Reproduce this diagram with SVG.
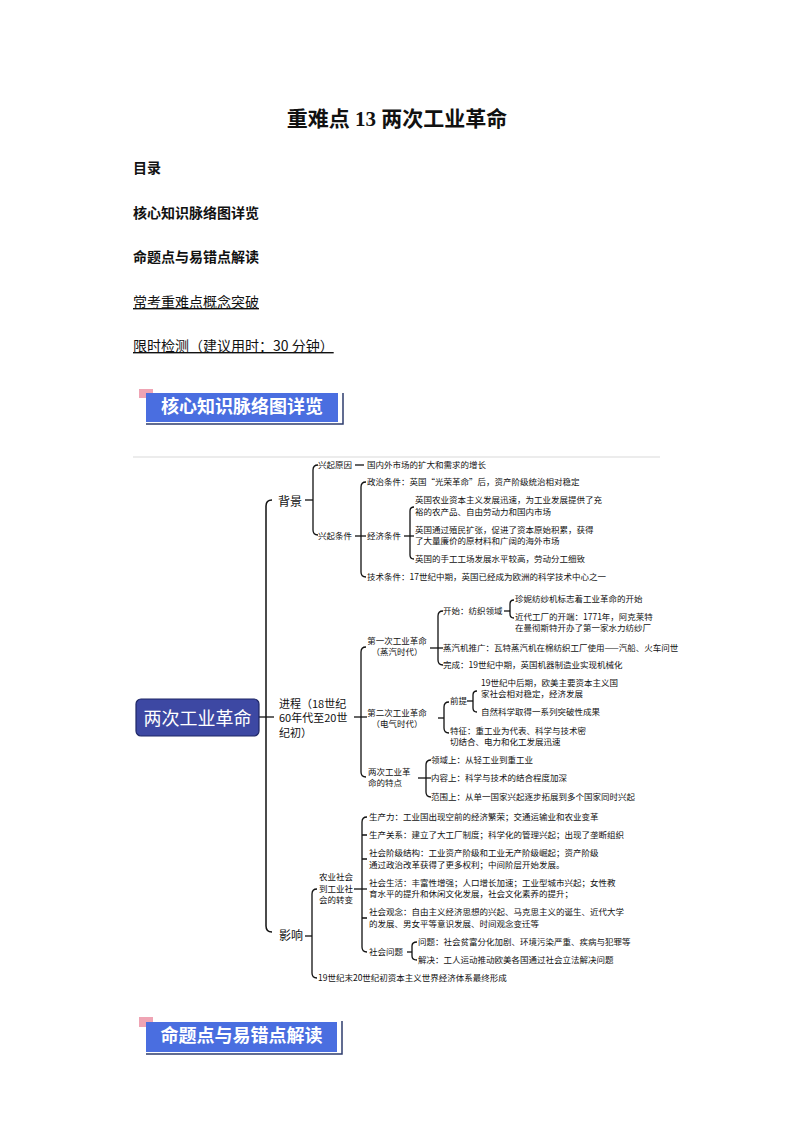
<svg xmlns="http://www.w3.org/2000/svg" width="794" height="1123" viewBox="0 0 794 1123">
<style>
text{font-family:"Noto Sans CJK SC","Noto Sans",sans-serif;fill:#111}
.title{font-family:"Liberation Serif","Noto Sans CJK SC",serif;font-size:21px;font-weight:bold;text-anchor:middle}
.toc{font-size:14px}
.b{font-weight:bold}
.u{text-decoration:underline}
.ban{font-size:18px;font-weight:bold;fill:#fff;text-anchor:middle}
.s{font-size:8.5px}
.m{font-size:12px}
.p{font-size:11px}
.c{text-anchor:middle}
.root{font-size:18px;fill:#fff;text-anchor:middle}
.ln{fill:none;stroke:#111;stroke-width:1.3}
.main{fill:none;stroke:#111;stroke-width:1.5}
.pink{fill:#efa4b4}
.blue{fill:#4a6ee0}
.shadow{fill:none;stroke:#2e3d6e;stroke-width:1.5}
</style>

<g id="header">
<text class="title" x="397" y="126">重难点 13 两次工业革命</text>
<text class="toc b" x="133" y="173">目录</text>
<text class="toc b" x="133" y="218">核心知识脉络图详览</text>
<text class="toc b" x="133" y="262">命题点与易错点解读</text>
<text class="toc u" x="133" y="307">常考重难点概念突破</text>
<text class="toc u" x="133" y="351">限时检测（建议用时：30 分钟）</text>
</g>

<g id="banner1">
<rect class="pink" x="139" y="389" width="14" height="9"/>
<rect class="blue" x="146" y="393" width="192" height="29"/>
<path class="shadow" d="M146,424 H343 V393"/>
<text class="ban" x="242" y="413">核心知识脉络图详览</text>
</g>

<line x1="133" y1="457" x2="660" y2="457" stroke="#ececec" stroke-width="2"/>

<g id="connectors">
<path class="main" d="M272,500 Q266,500 266,506 V926 Q266,932 272,932"/>
<path class="ln" d="M259,717 H274"/>
<path class="ln" d="M305,500 H313"/>
<path class="ln" d="M318,465 Q313,465 313,470 V530 Q313,535 318,535"/>
<path class="ln" d="M355,465 H364"/>
<path class="ln" d="M355,536 H366"/>
<path class="ln" d="M366,482 Q361,482 361,487 V572 Q361,577 366,577"/>
<path class="ln" d="M404,536 H414"/>
<path class="ln" d="M414,507 Q410,507 410,511 V555 Q410,559 414,559"/>
<path class="ln" d="M354,717 H367"/>
<path class="ln" d="M366,647 Q361,647 361,652 V772 Q361,777 366,777"/>
<path class="ln" d="M430,648 H443"/>
<path class="ln" d="M443,611 Q438,611 438,616 V660 Q438,665 443,665"/>
<path class="ln" d="M504,611 H510"/>
<path class="ln" d="M514,600 Q510,600 510,604 V614 Q510,618 514,618"/>
<path class="ln" d="M438,718 H444"/>
<path class="ln" d="M449,702 Q444,702 444,707 V728 Q444,733 449,733"/>
<path class="ln" d="M467,701 H473"/>
<path class="ln" d="M477,691 Q473,691 473,695 V708 Q473,712 477,712"/>
<path class="ln" d="M418,778 H431"/>
<path class="ln" d="M431,760 Q426,760 426,765 V792 Q426,797 431,797"/>
<path class="ln" d="M305,936 H312"/>
<path class="ln" d="M317,889 Q312,889 312,894 V973 Q312,978 317,978"/>
<path class="ln" d="M354,889 H367"/>
<path class="ln" d="M367,817 Q362,817 362,822 V947 Q362,952 367,952"/>
<path class="ln" d="M362,835 H367 M362,859 H367 M362,918 H367"/>
<path class="ln" d="M407,952 H412"/>
<path class="ln" d="M417,942 Q412,942 412,946 V956 Q412,960 417,960"/>
</g>

<g id="root">
<rect x="136" y="699" width="123" height="37" rx="5" fill="#3d48a3" stroke="#1e2766" stroke-width="1.2"/>
<text class="root" x="197.5" y="725">两次工业革命</text>
</g>

<g id="bg">
<text class="m" x="278" y="506">背景</text>
</g>
<g id="bg-reason">
<text class="s" x="318" y="468">兴起原因</text>
<text class="s" x="367" y="468">国内外市场的扩大和需求的增长</text>
</g>
<g id="bg-cond">
<text class="s" x="318" y="539">兴起条件</text>
<text class="s" x="367" y="485">政治条件：英国“光荣革命”后，资产阶级统治相对稳定</text>
<text class="s" x="367" y="539">经济条件</text>
<text class="s" x="415" y="503">英国农业资本主义发展迅速，为工业发展提供了充</text>
<text class="s" x="415" y="515">裕的农产品、自由劳动力和国内市场</text>
<text class="s" x="415" y="533">英国通过殖民扩张，促进了资本原始积累，获得</text>
<text class="s" x="415" y="544">了大量廉价的原材料和广阔的海外市场</text>
<text class="s" x="415" y="562">英国的手工工场发展水平较高，劳动分工细致</text>
<text class="s" x="367" y="580">技术条件：17世纪中期，英国已经成为欧洲的科学技术中心之一</text>
</g>

<g id="process">
<text class="p" x="279" y="708">进程（18世纪</text>
<text class="p" x="279" y="722">60年代至20世</text>
<text class="p" x="279" y="737">纪初）</text>
</g>
<g id="rev1">
<text class="s c" x="397" y="644">第一次工业革命</text>
<text class="s c" x="397" y="655">（蒸汽时代）</text>
<text class="s" x="443" y="614">开始：纺织领域</text>
<text class="s" x="515" y="602">珍妮纺纱机标志着工业革命的开始</text>
<text class="s" x="515" y="620">近代工厂的开端：1771年，阿克莱特</text>
<text class="s" x="515" y="631">在曼彻斯特开办了第一家水力纺纱厂</text>
<text class="s" x="443" y="651">蒸汽机推广：瓦特蒸汽机在棉纺织工厂使用——汽船、火车问世</text>
<text class="s" x="443" y="668">完成：19世纪中期，英国机器制造业实现机械化</text>
</g>
<g id="rev2">
<text class="s c" x="397" y="716">第二次工业革命</text>
<text class="s c" x="397" y="727">（电气时代）</text>
<text class="s" x="450" y="704">前提</text>
<text class="s" x="481" y="686">19世纪中后期，欧美主要资本主义国</text>
<text class="s" x="481" y="697">家社会相对稳定，经济发展</text>
<text class="s" x="481" y="715">自然科学取得一系列突破性成果</text>
<text class="s" x="450" y="734">特征：重工业为代表、科学与技术密</text>
<text class="s" x="450" y="745">切结合、电力和化工发展迅速</text>
</g>
<g id="features">
<text class="s" x="368" y="775">两次工业革</text>
<text class="s" x="368" y="786">命的特点</text>
<text class="s" x="431" y="763">领域上：从轻工业到重工业</text>
<text class="s" x="431" y="781">内容上：科学与技术的结合程度加深</text>
<text class="s" x="431" y="800">范围上：从单一国家兴起逐步拓展到多个国家同时兴起</text>
</g>

<g id="impact">
<text class="m" x="279" y="939.5">影响</text>
<text class="s" x="318" y="981">19世纪末20世纪初资本主义世界经济体系最终形成</text>
</g>
<g id="transform">
<text class="s c" x="336" y="880">农业社会</text>
<text class="s c" x="336" y="892">到工业社</text>
<text class="s c" x="336" y="903">会的转变</text>
<text class="s" x="369" y="820">生产力：工业国出现空前的经济繁荣；交通运输业和农业变革</text>
<text class="s" x="369" y="838">生产关系：建立了大工厂制度；科学化的管理兴起；出现了垄断组织</text>
<text class="s" x="369" y="856">社会阶级结构：工业资产阶级和工业无产阶级崛起；资产阶级</text>
<text class="s" x="369" y="868">通过政治改革获得了更多权利；中间阶层开始发展。</text>
<text class="s" x="369" y="886">社会生活：丰富性增强；人口增长加速；工业型城市兴起；女性教</text>
<text class="s" x="369" y="897">育水平的提升和休闲文化发展，社会文化素养的提升；</text>
<text class="s" x="369" y="915">社会观念：自由主义经济思想的兴起、马克思主义的诞生、近代大学</text>
<text class="s" x="369" y="927">的发展、男女平等意识发展、时间观念变迁等</text>
<text class="s" x="369" y="955">社会问题</text>
<text class="s" x="418" y="945">问题：社会贫富分化加剧、环境污染严重、疾病与犯罪等</text>
<text class="s" x="418" y="963">解决：工人运动推动欧美各国通过社会立法解决问题</text>
</g>

<g id="banner2">
<rect class="pink" x="139" y="1017" width="14" height="10"/>
<rect class="blue" x="146" y="1022" width="191" height="30"/>
<path class="shadow" d="M146,1054 H342 V1021"/>
<text class="ban" x="241.5" y="1042">命题点与易错点解读</text>
</g>
</svg>
